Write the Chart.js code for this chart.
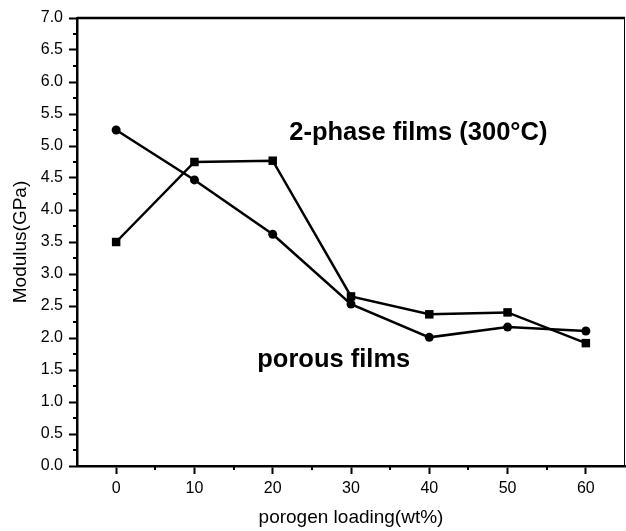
<!DOCTYPE html>
<html>
<head>
<meta charset="utf-8">
<script src="https://cdn.jsdelivr.net/npm/chart.js@4/dist/chart.umd.min.js"></script>
<style>
  body { margin: 0; background: #fff; }
  canvas { display: block; }
</style>
</head>
<body>
<canvas id="modulusChart" width="626" height="531"></canvas>
<script>
// Data
const porogenLoading = [0, 10, 20, 30, 40, 50, 60];
const porousFilms = [5.25, 4.47, 3.62, 2.53, 2.01, 2.17, 2.11];
const twoPhaseFilms = [3.50, 4.75, 4.77, 2.65, 2.37, 2.40, 1.92];
const xTicks = [0, 10, 20, 30, 40, 50, 60];

// text labels placed in data units
const notes = [
  { text: '2-phase films (300\u00B0C)', x: 38.6, y: 5.2 },
  { text: 'porous films', x: 27.8, y: 1.66 }
];

const FONT = 'Arial, "Liberation Sans", sans-serif';

const toPoints = (vals) => vals.map((v, i) => ({ x: porogenLoading[i], y: v }));

// minor ticks, top/right frame and the text labels
const extras = {
  id: 'extras',
  afterDraw(chart) {
    const { ctx, chartArea: a, scales: { x, y } } = chart;
    ctx.save();
    ctx.strokeStyle = '#000';

    // minor ticks
    ctx.lineWidth = 2;
    ctx.beginPath();
    for (let v = 5; v < 65; v += 10) {
      const px = Math.round(x.getPixelForValue(v));
      ctx.moveTo(px, a.bottom);
      ctx.lineTo(px, a.bottom + 4);
    }
    for (let v = 0.25; v < 7; v += 0.5) {
      const py = Math.round(y.getPixelForValue(v));
      ctx.moveTo(a.left, py);
      ctx.lineTo(a.left - 4, py);
    }
    ctx.stroke();

    // frame
    ctx.lineWidth = 2.5;
    ctx.beginPath();
    ctx.moveTo(a.left, a.top);
    ctx.lineTo(a.right, a.top);
    ctx.stroke();
    ctx.lineWidth = 1;
    ctx.beginPath();
    ctx.moveTo(a.right - 0.5, a.top);
    ctx.lineTo(a.right - 0.5, a.bottom);
    ctx.stroke();

    // labels
    ctx.fillStyle = '#000';
    ctx.font = 'bold 25.5px ' + FONT;
    ctx.textAlign = 'center';
    ctx.textBaseline = 'middle';
    notes.forEach(n => {
      ctx.fillText(n.text, x.getPixelForValue(n.x), y.getPixelForValue(n.y));
    });
    ctx.restore();
  }
};

new Chart(document.getElementById('modulusChart').getContext('2d'), {
  type: 'line',
  data: {
    datasets: [
      {
        label: 'porous films',
        data: toPoints(porousFilms),
        borderColor: '#000',
        backgroundColor: '#000',
        borderWidth: 2.5,
        pointStyle: 'circle',
        pointRadius: 4.5,
        pointBorderWidth: 0,
        tension: 0
      },
      {
        label: '2-phase films (300\u00B0C)',
        data: toPoints(twoPhaseFilms),
        borderColor: '#000',
        backgroundColor: '#000',
        borderWidth: 2.5,
        pointStyle: 'rect',
        pointRadius: 6,
        pointBorderWidth: 0,
        tension: 0
      }
    ]
  },
  options: {
    responsive: false,
    devicePixelRatio: 1,
    animation: false,
    layout: { autoPadding: false, padding: { top: 18, right: 1, left: 0, bottom: 0 } },
    plugins: { legend: { display: false }, tooltip: { enabled: false } },
    scales: {
      x: {
        type: 'linear',
        min: -5,
        max: 65,
        afterBuildTicks: (s) => { s.ticks = xTicks.map(v => ({ value: v })); },
        afterFit: (s) => { s.height = 65; s.paddingRight = 0; s.paddingLeft = 0; },
        border: { display: true, color: '#000', width: 2.5 },
        grid: { drawOnChartArea: false, drawTicks: true, tickLength: 8, tickWidth: 2, tickColor: '#000' },
        ticks: {
          padding: 5,
          color: '#000',
          font: { family: FONT, size: 16 },
          maxRotation: 0
        },
        title: {
          display: true,
          text: 'porogen loading(wt%)',
          color: '#000',
          font: { family: FONT, size: 19, lineHeight: 1 },
          padding: { top: 0, bottom: 3.5 }
        }
      },
      y: {
        min: 0,
        max: 7,
        afterFit: (s) => { s.width = 77; },
        border: { display: true, color: '#000', width: 2.5 },
        grid: { drawOnChartArea: false, drawTicks: true, tickLength: 8, tickWidth: 2, tickColor: '#000' },
        ticks: {
          stepSize: 0.5,
          padding: 6,
          color: '#000',
          font: { family: FONT, size: 16 },
          callback: (v) => v.toFixed(1)
        },
        title: {
          display: true,
          text: 'Modulus(GPa)',
          color: '#000',
          font: { family: FONT, size: 19, lineHeight: 1 },
          padding: { top: 11, bottom: 0 }
        }
      }
    }
  },
  plugins: [extras]
});
</script>
</body>
</html>
